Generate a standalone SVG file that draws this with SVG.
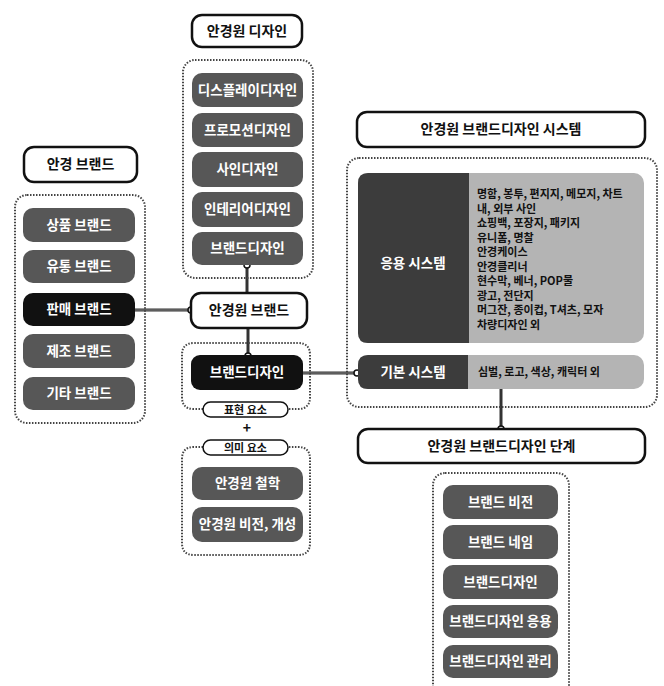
<svg xmlns="http://www.w3.org/2000/svg" width="664" height="686" viewBox="0 0 664 686">
<style>
text{font-family:"Noto Sans CJK KR","Noto Sans",sans-serif;font-weight:700;}
.title{fill:#fff;stroke:#111;stroke-width:2.5;}
.tt{font-size:14px;fill:#111;text-anchor:middle;}
.dot{fill:none;stroke:#444;stroke-width:2;stroke-dasharray:1.5 1.5;}
.btn{fill:#575757;}
.blk{fill:#111;}
.bt{font-size:13.5px;fill:#fff;text-anchor:middle;}
.pill{fill:#fff;stroke:#111;stroke-width:1.5;}
.pt{font-size:11px;fill:#111;text-anchor:middle;}
.lst{font-size:11px;fill:#111;}
.con{stroke:#333;stroke-width:3;fill:none;}
.coni{stroke:#888;stroke-width:1;fill:none;}
.knob{fill:#fff;stroke:#111;stroke-width:1.5;}
</style>
<g id="connectors">
<line class="con" x1="247" y1="262" x2="247" y2="298"/>
<line class="con" x1="135" y1="310" x2="191" y2="310"/>
<line class="coni" x1="135" y1="310" x2="191" y2="310"/>
<line class="con" x1="248" y1="326" x2="248" y2="356"/>
<line class="con" x1="300" y1="373" x2="357" y2="373"/>
<line class="coni" x1="300" y1="373" x2="357" y2="373"/>
<line class="con" x1="501" y1="388" x2="501" y2="429"/>
<circle class="knob" cx="247" cy="265" r="3"/>
<circle class="knob" cx="191" cy="310" r="3"/>
<circle class="knob" cx="248" cy="356" r="3"/>
<circle class="knob" cx="357" cy="373" r="3"/>
<circle class="knob" cx="501" cy="429" r="3"/>
</g>
<g id="display-design">
<rect class="title" x="192" y="15" width="110" height="32" rx="10"/>
<text class="tt" x="247" y="36">안경원 디자인</text>
<rect class="dot" x="183" y="60" width="130" height="218" rx="12"/>
<rect class="btn" x="192" y="73" width="111" height="34" rx="10"/>
<text class="bt" x="247.5" y="95">디스플레이디자인</text>
<rect class="btn" x="192" y="113" width="111" height="34" rx="10"/>
<text class="bt" x="247.5" y="135">프로모션디자인</text>
<rect class="btn" x="192" y="152" width="111" height="35" rx="10"/>
<text class="bt" x="247.5" y="174">사인디자인</text>
<rect class="btn" x="192" y="192" width="111" height="35" rx="10"/>
<text class="bt" x="247.5" y="214">인테리어디자인</text>
<rect class="btn" x="192" y="232" width="111" height="33" rx="10"/>
<text class="bt" x="247.5" y="253">브랜드디자인</text>
</g>
<g id="eyeglass-brand">
<rect class="title" x="24" y="147" width="113" height="35" rx="10"/>
<text class="tt" x="80.5" y="169">안경 브랜드</text>
<rect class="dot" x="15" y="195" width="130" height="228" rx="12"/>
<rect class="btn" x="23" y="208" width="112" height="34" rx="10"/>
<text class="bt" x="79" y="230">상품 브랜드</text>
<rect class="btn" x="23" y="250" width="112" height="33" rx="10"/>
<text class="bt" x="79" y="271">유통 브랜드</text>
<rect class="blk" x="23" y="293" width="112" height="33" rx="10"/>
<text class="bt" x="79" y="314">판매 브랜드</text>
<rect class="btn" x="23" y="334" width="112" height="34" rx="10"/>
<text class="bt" x="79" y="356">제조 브랜드</text>
<rect class="btn" x="23" y="377" width="112" height="33" rx="10"/>
<text class="bt" x="79" y="398">기타 브랜드</text>
</g>
<g id="shop-brand">
<rect class="title" x="191" y="293" width="116" height="35" rx="10"/>
<text class="tt" x="249" y="315">안경원 브랜드</text>
</g>
<g id="brand-design">
<path class="dot" d="M203 409 H194 Q182 409 182 397 V355 Q182 343 194 343 H298 Q310 343 310 355 V397 Q310 409 298 409 H288"/>
<rect class="blk" x="191" y="355" width="112" height="35" rx="9"/>
<text class="bt" x="247" y="377">브랜드디자인</text>
<rect class="pill" x="203" y="402" width="85" height="15" rx="7.5"/>
<text class="pt" x="245.5" y="413.5">표현 요소</text>
<text x="247" y="433" style="font-size:14px;fill:#111;text-anchor:middle">+</text>
</g>
<g id="meaning">
<path class="dot" d="M203 447 H194 Q182 447 182 459 V543 Q182 555 194 555 H298 Q310 555 310 543 V459 Q310 447 298 447 H288"/>
<rect class="pill" x="203" y="440" width="85" height="15" rx="7.5"/>
<text class="pt" x="245.5" y="451.5">의미 요소</text>
<rect class="btn" x="192" y="467" width="111" height="33" rx="10"/>
<text class="bt" x="247.5" y="488">안경원 철학</text>
<rect class="btn" x="192" y="507" width="111" height="35" rx="10"/>
<text class="bt" x="247.5" y="529">안경원 비전, 개성</text>
</g>
<g id="design-system">
<rect class="title" x="357" y="112" width="288" height="35" rx="10"/>
<text class="tt" x="501" y="134">안경원 브랜드디자인 시스템</text>
<rect class="dot" x="347" y="158" width="310" height="249" rx="12"/>
<rect x="358" y="173" width="286" height="170" rx="10" fill="#b4b4b4"/>
<path d="M368 173 H469 V343 H368 Q358 343 358 333 V183 Q358 173 368 173 Z" fill="#3c3c3c"/>
<text class="bt" x="413" y="268">응용 시스템</text>
<text class="lst" x="477" y="198">명함, 봉투, 편지지, 메모지, 차트</text>
<text class="lst" x="477" y="212.5">내, 외부 사인</text>
<text class="lst" x="477" y="227">쇼핑백, 포장지, 패키지</text>
<text class="lst" x="477" y="241.5">유니폼, 명찰</text>
<text class="lst" x="477" y="256">안경케이스</text>
<text class="lst" x="477" y="270.5">안경클리너</text>
<text class="lst" x="477" y="285">현수막, 베너, POP물</text>
<text class="lst" x="477" y="299.5">광고, 전단지</text>
<text class="lst" x="477" y="314">머그잔, 종이컵, T셔츠, 모자</text>
<text class="lst" x="477" y="328.5">차량디자인 외</text>
</g>
<g id="basic-system">
<rect x="358" y="355" width="286" height="34" rx="10" fill="#b4b4b4"/>
<path d="M368 355 H468 V389 H368 Q358 389 358 379 V365 Q358 355 368 355 Z" fill="#3c3c3c"/>
<text class="bt" x="413" y="377">기본 시스템</text>
<text class="lst" x="478" y="376">심벌, 로고, 색상, 캐릭터 외</text>
</g>
<g id="design-stages">
<rect class="title" x="358" y="429" width="287" height="34" rx="10"/>
<text class="tt" x="501.5" y="451">안경원 브랜드디자인 단계</text>
<rect class="dot" x="433" y="473" width="136" height="225" rx="12"/>
<rect class="btn" x="443" y="485" width="115" height="34" rx="10"/>
<text class="bt" x="500.5" y="507">브랜드 비전</text>
<rect class="btn" x="443" y="525" width="115" height="34" rx="10"/>
<text class="bt" x="500.5" y="547">브랜드 네임</text>
<rect class="btn" x="443" y="565" width="115" height="34" rx="10"/>
<text class="bt" x="500.5" y="587">브랜드디자인</text>
<rect class="btn" x="443" y="605" width="115" height="33" rx="10"/>
<text class="bt" x="500.5" y="626">브랜드디자인 응용</text>
<rect class="btn" x="443" y="645" width="115" height="33" rx="10"/>
<text class="bt" x="500.5" y="666">브랜드디자인 관리</text>
</g>
</svg>
